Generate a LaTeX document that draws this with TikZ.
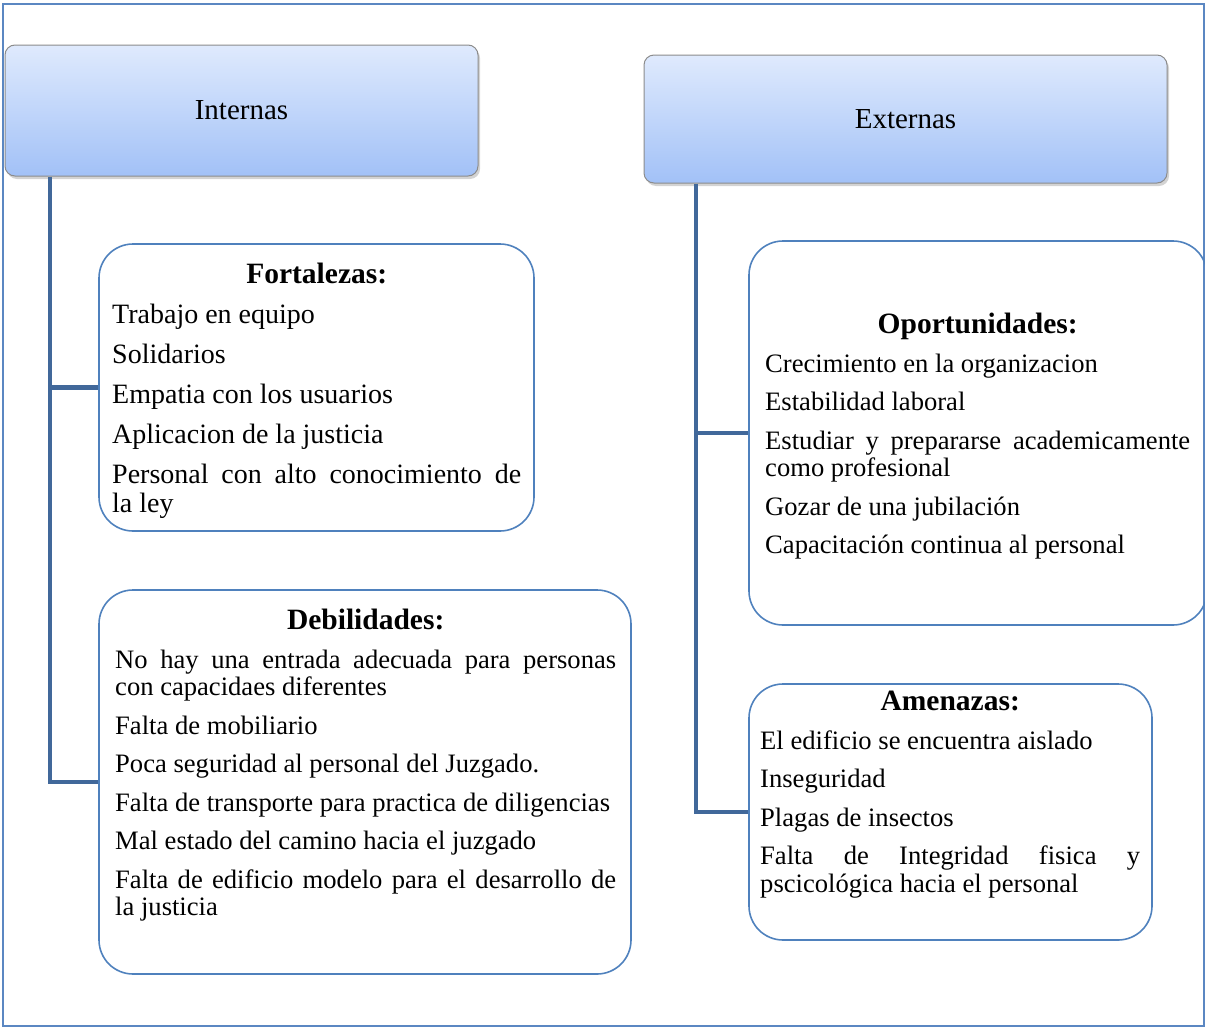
\documentclass[tikz,border=0pt]{standalone}
\usepackage{fontspec}
\setmainfont{Liberation Serif}
\usetikzlibrary{shadows}
\definecolor{marcoazul}{HTML}{5B87C2}
\definecolor{cajaazul}{HTML}{4F81BD}
\definecolor{ramaazul}{HTML}{41689A}
\definecolor{cabarriba}{HTML}{DFEAFD}
\definecolor{cababajo}{HTML}{A2C1F7}
\newcommand{\lista}[4]{\begin{minipage}{#1}\setlength{\parskip}{11pt}\hyphenpenalty=10000
\fontsize{#2}{#3}\selectfont #4\end{minipage}}
\newcommand{\titulo}[1]{{\centering\fontsize{29.5}{29}\selectfont\bfseries #1\par}}
\begin{document}
\begin{tikzpicture}[x=1pt,y=-1pt,
    cabecera/.style={draw=gray!90,line width=1pt,rounded corners=10pt,top color=cabarriba,bottom color=cababajo,
      drop shadow={shadow xshift=2pt,shadow yshift=-3pt,opacity=0.35},font=\fontsize{29}{30}\selectfont},
    caja/.style={draw=cajaazul,line width=1.6pt,rounded corners=34pt},
    texto/.style={anchor=north west,inner sep=0pt},
    rama/.style={draw=ramaazul,line width=4.5pt}]
    \useasboundingbox (0,0) rectangle (1205,1028);
    \draw[marcoazul,line width=1.5pt] (3,4) rectangle (1204,1026);
    % cabeceras
    \node[cabecera,minimum width=473pt,minimum height=131pt] (int) at (241.5,110.5) {Internas};
    \node[cabecera,minimum width=523pt,minimum height=128pt] (ext) at (905.5,119) {Externas};
    % cajas
    \node[caja,minimum width=435pt,minimum height=287pt] (fort) at (316.5,387.5) {};
    \node[caja,minimum width=532pt,minimum height=384pt] (deb) at (365,782) {};
    \node[caja,minimum width=458pt,minimum height=384pt] (opor) at (978,433) {};
    \node[caja,minimum width=403pt,minimum height=256pt] (amen) at (950.5,812) {};
    % ramas
    \coordinate (tronco1) at (50,0);
    \coordinate (tronco2) at (696,0);
    \draw[rama] (int.south -| tronco1) |- (deb.west);
    \draw[rama] (tronco1 |- fort.west) -- (fort.west);
    \draw[rama] (ext.south -| tronco2) |- (amen.west);
    \draw[rama] (tronco2 |- opor.west) -- (opor.west);
    % textos
    \node[texto] (fortTxt) at (112,263) {\lista{409pt}{28}{29}{\titulo{Fortalezas:}
      Trabajo en equipo\par
      Solidarios\par
      Empatia con los usuarios\par
      Aplicacion de la justicia\par
      Personal con alto conocimiento de\linebreak la ley}};
    \node[texto] (debTxt) at (115,609) {\lista{501pt}{26.6}{27.5}{\titulo{Debilidades:}
      No hay una entrada adecuada para personas\linebreak con capacidaes diferentes\par
      Falta de mobiliario\par
      Poca seguridad al personal del Juzgado.\par
      Falta de transporte para practica de diligencias\par
      Mal estado del camino hacia el juzgado\par
      Falta de edificio modelo para el desarrollo de\linebreak la justicia}};
    \node[texto] (oporTxt) at (765,313) {\lista{425pt}{26.6}{27.5}{\titulo{Oportunidades:}
      Crecimiento en la organizacion\par
      Estabilidad laboral\par
      Estudiar y prepararse academicamente\linebreak como profesional\par
      Gozar de una jubilación\par
      Capacitación continua al personal}};
    \node[texto] (amenTxt) at (760,691) {\lista{380pt}{26.6}{27.5}{\titulo{Amenazas:}
      El edificio se encuentra aislado\par
      Inseguridad\par
      Plagas de insectos\par
      Falta de Integridad fisica y\linebreak pscicológica hacia el personal}};
\end{tikzpicture}
\end{document}
